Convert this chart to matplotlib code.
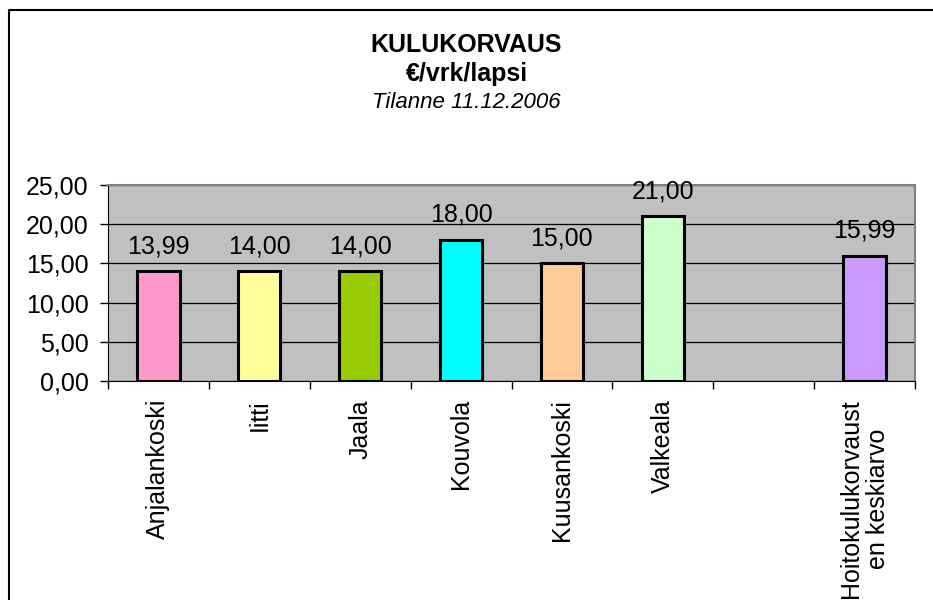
import numpy as np
import matplotlib.pyplot as plt
from matplotlib.lines import Line2D

plt.rcParams['font.family'] = ['Liberation Sans', 'DejaVu Sans']

kunnat = ['Anjalankoski', 'Iitti', 'Jaala', 'Kouvola', 'Kuusankoski', 'Valkeala', '',
          'Hoitokulukorvaust\nen keskiarvo']
arvot = [13.99, 14.00, 14.00, 18.00, 15.00, 21.00, np.nan, 15.99]
varit = ['#FF99CC', '#FFFF99', '#99CC00', '#00FFFF', '#FFCC99', '#CCFFCC', 'none', '#CC99FF']

fs = 18

fig = plt.figure(figsize=(9.33, 6), dpi=100)
ax = fig.add_axes([108/933, 1 - 381/600, (915 - 108)/933, (381 - 185)/600])
ax.set_facecolor('#C0C0C0')

x = np.arange(len(kunnat))
for i in x:
    if np.isnan(arvot[i]):
        continue
    ax.bar(i, arvot[i], width=0.42, color=varit[i], edgecolor='black', linewidth=2.2, zorder=3)
    ax.text(i, arvot[i] + 2.3, "{:.2f}".format(arvot[i]).replace('.', ','),
            ha='center', va='baseline', fontsize=fs, zorder=4)

ax.set_xlim(-0.5, len(kunnat) - 0.5)
ax.set_ylim(0, 25)
ax.set_yticks(np.arange(0, 26, 5))
ax.set_yticklabels(["{:.2f}".format(v).replace('.', ',') for v in np.arange(0, 26, 5)], fontsize=fs)
ax.yaxis.grid(True, color='black', linewidth=0.9, zorder=1)
ax.set_axisbelow(True)
ax.tick_params(axis='y', length=6, width=1, direction='out', pad=8)

ax.set_xticks(x)
ax.set_xticklabels(kunnat, rotation=90, fontsize=fs, va='top', ha='center',
                   multialignment='center')
ax.set_xticks(np.arange(-0.5, len(kunnat)), minor=True)
ax.tick_params(axis='x', which='major', length=0, pad=13)
ax.tick_params(axis='x', which='minor', length=6, width=1, direction='out')

for s in ['top', 'right']:
    ax.spines[s].set_color('#808080')
    ax.spines[s].set_linewidth(1.5)
ax.spines['left'].set_color('black')
ax.spines['bottom'].set_color('black')

fig.text(0.5, 1 - 45/600, 'KULUKORVAUS', ha='center', va='center', fontsize=fs, fontweight='bold')
fig.text(0.5, 1 - 74/600, '€/vrk/lapsi', ha='center', va='center', fontsize=fs, fontweight='bold')
fig.text(0.5, 1 - 103/600, 'Tilanne 11.12.2006', ha='center', va='center', fontsize=16,
         style='italic')

fig.add_artist(Line2D([9/933, 9/933, 1], [0, 1 - 10/600, 1 - 10/600],
                      transform=fig.transFigure, color='black', linewidth=1.5))

plt.savefig('out.png', dpi=100)
